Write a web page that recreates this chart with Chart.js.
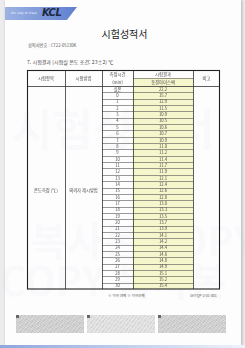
<!DOCTYPE html>
<html lang="ko">
<head>
  <meta charset="UTF-8">
  <title>시험성적서</title>
  <script src="https://cdn.jsdelivr.net/npm/chart.js"></script>
  <style>
    body {
      margin: 0;
      width: 245px;
      height: 348px;
      background: #ececec;
      font-family: 'Noto Sans CJK KR', 'Noto Sans', sans-serif;
      overflow: hidden;
      position: relative;
    }
    .page {
      position: absolute;
      left: 5px; top: 0; width: 236px; height: 346px;
      background: #fdfdfd;
      box-shadow: 1px 0 3px rgba(0,0,0,0.25);
    }
    .band {
      position: absolute;
      left: 5px; top: 7px; width: 72px; height: 13px;
      background: linear-gradient(90deg, #9db2e4, #5f7fcf);
      clip-path: polygon(0 0, 100% 0, 86% 100%, 0 100%);
    }
    .band .tag {
      position: absolute; left: 6px; top: 4px;
      font: italic 3.2px 'DejaVu Serif', serif; color: #f4f6ff;
    }
    .band .logo {
      position: absolute; left: 37px; top: 0px;
      font: italic bold 10px 'DejaVu Sans', sans-serif; color: #1e2a44; letter-spacing: -0.5px;
    }
    .title {
      position: absolute; left: 0; width: 245px; top: 26px;
      text-align: center; font-size: 10px; color: #222; padding-left: 2px;
    }
    .small { position: absolute; color: #555; white-space: nowrap; }
    .wm {
      position: absolute; color: rgba(190, 200, 225, 0.08);
      font-weight: bold; white-space: nowrap;
    }
    .noise {
      position: absolute; top: 315px; height: 18px; width: 68px;
      background:
        repeating-linear-gradient(37deg, rgba(255,255,255,0.25) 0 1px, transparent 1px 2px),
        repeating-linear-gradient(-53deg, rgba(140,140,140,0.18) 0 1px, transparent 1px 3px),
        #cdcdcd;
    }
    .noise::before {
      content: ''; position: absolute; left: 0; top: 0; width: 3px; height: 3px; background: #666;
    }
    .foot {
      position: absolute; left: 0; top: 345px; width: 245px; height: 3px;
      background: linear-gradient(90deg, #8ea6dd, #c9d6f0 60%, #eef2fa);
    }
    .tableBox { position: absolute; left: 26px; top: 69px; width: 195px; height: 221px; }
  </style>
</head>
<body>
<div class="page"></div>
<div class="band"><span class="tag">the way to trust</span><span class="logo">KCL</span></div>
<div class="title">시험성적서</div>
<div class="small" style="left:28px;top:42px;font-size:4.2px;">성적서번호 : CT22-05130K</div>
<div class="small" style="left:27px;top:58px;font-size:5px;color:#444;">7. 시험결과 (시험실 온도 조건: 23±2) ℃</div>

<div class="wm" style="left:12px;top:95px;font-size:44px;">시험성적서</div>
<div class="wm" style="left:30px;top:210px;font-size:40px;">복사본 COPY</div>
<div class="wm" style="left:0px;top:250px;font-size:40px;">COPY 복사본</div>

<div class="tableBox">
  <canvas id="tableChart" width="195" height="221"></canvas>
</div>

<div class="small" style="left:108px;top:293px;font-size:3.5px;">※ 이하 여백 ※ 이하여백</div>
<div class="small" style="left:190px;top:293px;font-size:3.5px;">SHTQP-2-01-001</div>

<div class="noise" style="left:16px;"></div>
<div class="noise" style="left:87px;background-color:#e0e0e0;"></div>
<div class="noise" style="left:158px;"></div>
<div class="foot"></div>

<script>
  // 측정시간 (min)
  const timeLabels = ['실온', '0', '1', '2', '3', '4', '5', '6', '7', '8', '9', '10',
    '11', '12', '13', '14', '15', '16', '17', '18', '19', '20', '21', '22', '23',
    '24', '25', '26', '27', '28', '29', '30'];
  // 동결아이스팩 온도 (℃)
  const tempValues = [22.2, 15.7, 12.9, 11.5, 10.9, 10.5, 10.6, 10.7, 10.9, 11.0, 11.2,
    11.4, 11.7, 11.9, 12.1, 12.4, 12.6, 12.8, 13.0, 13.3, 13.5, 13.7, 13.9, 14.1,
    14.2, 14.4, 14.6, 14.8, 14.9, 15.1, 15.2, 15.4];
  const headers = ['시험항목', '시험방법', '측정시간', '(min)', '시험결과', '동결아이스팩', '비고'];
  const itemName = '온도측정 (℃)';
  const methodName = '의뢰자 제시방법';

  // column edges of the table (x scale units)
  const COL = [0, 38, 75, 106, 166, 193];
  const HEAD = 16;

  const tablePlugin = {
    id: 'tableGrid',
    afterDatasetsDraw(chart) {
      const { ctx, chartArea } = chart;
      const xs = chart.scales.x, ys = chart.scales.y;
      const X = v => xs.getPixelForValue(v);
      const rowH = (chartArea.bottom - chartArea.top) / timeLabels.length;
      const top = chartArea.top - HEAD;
      const bot = chartArea.bottom;

      ctx.save();
      // header yellow sub-cell
      ctx.fillStyle = '#f6f6cc';
      ctx.fillRect(X(COL[3]), top + HEAD / 2, X(COL[4]) - X(COL[3]), HEAD / 2);

      // row lines in time / result columns
      ctx.strokeStyle = '#555';
      ctx.lineWidth = 0.6;
      ctx.beginPath();
      timeLabels.forEach((_, i) => {
        if (i === 0) return;
        const y = Math.round(ys.getPixelForValue(i) - rowH / 2) + 0.5;
        ctx.moveTo(X(COL[2]), y); ctx.lineTo(X(COL[4]), y);
      });
      ctx.moveTo(X(COL[3]), top + HEAD / 2 + 0.5); ctx.lineTo(X(COL[4]), top + HEAD / 2 + 0.5);
      ctx.stroke();

      // column lines and header bottom
      ctx.strokeStyle = '#333';
      ctx.lineWidth = 0.8;
      ctx.beginPath();
      COL.slice(1, -1).forEach(c => {
        const x = Math.round(X(c)) + 0.5;
        ctx.moveTo(x, top); ctx.lineTo(x, bot);
      });
      ctx.moveTo(X(0), chartArea.top + 0.5); ctx.lineTo(X(193), chartArea.top + 0.5);
      ctx.stroke();

      // outer border
      ctx.strokeStyle = '#222';
      ctx.lineWidth = 1.1;
      ctx.strokeRect(X(0) + 0.5, top + 0.5, X(193) - X(0) - 1, bot - top - 0.5);

      // texts
      ctx.fillStyle = '#4a4a4a';
      ctx.textAlign = 'center';
      ctx.textBaseline = 'middle';
      ctx.font = '4.3px "Noto Sans CJK KR"';
      const mid = (a, b) => (X(COL[a]) + X(COL[b])) / 2;
      ctx.fillText(headers[0], mid(0, 1), top + HEAD / 2);
      ctx.fillText(headers[1], mid(1, 2), top + HEAD / 2);
      ctx.fillText(headers[2], mid(2, 3), top + HEAD / 4 + 0.5);
      ctx.fillText(headers[3], mid(2, 3), top + HEAD * 3 / 4);
      ctx.fillText(headers[4], mid(3, 4), top + HEAD / 4 + 0.5);
      ctx.fillText(headers[5], mid(3, 4), top + HEAD * 3 / 4);
      ctx.fillText(headers[6], mid(4, 5), top + HEAD / 2);

      const itemY = ys.getPixelForValue(16);
      ctx.fillText(itemName, mid(0, 1), itemY);
      ctx.fillText(methodName, mid(1, 2), itemY);

      ctx.font = '4.2px "Noto Sans CJK KR"';
      timeLabels.forEach((t, i) => {
        const y = ys.getPixelForValue(i);
        ctx.fillText(t, mid(2, 3), y);
        ctx.fillText(tempValues[i].toFixed(1), mid(3, 4), y);
      });
      ctx.restore();
    }
  };

  new Chart(document.getElementById('tableChart'), {
    type: 'bar',
    data: {
      labels: timeLabels,
      datasets: [{
        label: '동결아이스팩',
        data: tempValues.map(() => [COL[3], COL[4]]),
        backgroundColor: '#f6f6cc',
        borderWidth: 0,
        barPercentage: 1,
        categoryPercentage: 1
      }]
    },
    options: {
      indexAxis: 'y',
      responsive: false,
      animation: false,
      layout: { padding: { left: 1, right: 1, top: HEAD + 1, bottom: 1 } },
      plugins: { legend: { display: false }, tooltip: { enabled: false } },
      scales: {
        x: { type: 'linear', min: 0, max: 193, display: false },
        y: { type: 'category', display: false, offset: true }
      }
    },
    plugins: [tablePlugin]
  });
</script>
</body>
</html>
